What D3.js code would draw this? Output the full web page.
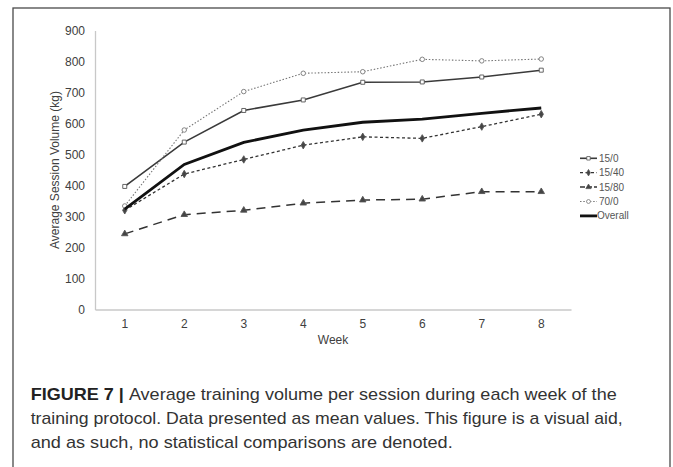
<!DOCTYPE html>
<html><head><meta charset="utf-8">
<script src="https://cdn.jsdelivr.net/npm/d3@7"></script>
<style>html,body{margin:0;padding:0;background:#fff;}svg{display:block;}</style>
</head><body>
<script>
const weeks = ["1","2","3","4","5","6","7","8"];
const yTicks = [0,100,200,300,400,500,600,700,800,900];
const s15_0  = [397,540,642,676,733,734,750,772];
const s15_40 = [320,437,484,530,557,552,590,630];
const s15_80 = [244,306,320,343,353,356,380,380];
const s70_0  = [334,579,703,762,767,807,802,808];
const overall= [324,468,539,579,604,614,633,650];
const seriesNames = ["15/0","15/40","15/80","70/0","Overall"];
const captionLines = [
  ["FIGURE 7 | ", "Average training volume per session during each week of the"],
  ["", "training protocol. Data presented as mean values. This figure is a visual aid,"],
  ["", "and as such, no statistical comparisons are denoted."]
];

const W=673,H=467;
const svg=d3.select("body").append("svg").attr("width",W).attr("height",H);
svg.append("rect").attr("x",13).attr("y",8).attr("width",657).attr("height",470)
  .attr("fill","none").attr("stroke","#4a4a4a").attr("stroke-width",1.3);

const x=d3.scaleBand().domain(weeks).range([95,571]);
const y=d3.scaleLinear().domain([0,900]).range([309.5,30.5]);
const font="Liberation Sans, Arial, sans-serif";

// axes
const xa=svg.append("g").attr("transform","translate(0,309.5)")
  .call(d3.axisBottom(x).tickSize(0).tickPadding(10));
xa.select(".domain").attr("stroke","#c8c8c8").attr("stroke-width",1.3);
xa.selectAll("text").attr("font-family",font).attr("font-size",12).attr("fill","#404040");
const ya=svg.append("g").attr("transform","translate(95,0)")
  .call(d3.axisLeft(y).tickValues(yTicks).tickSize(0).tickPadding(10));
ya.select(".domain").attr("stroke","#c8c8c8").attr("stroke-width",1.3);
ya.selectAll("text").attr("font-family",font).attr("font-size",12).attr("fill","#404040");

svg.append("text").attr("x",333).attr("y",344).attr("text-anchor","middle")
  .attr("font-family",font).attr("font-size",12).attr("fill","#404040").text("Week");
svg.append("text").attr("transform","translate(59,170) rotate(-90)").attr("text-anchor","middle")
  .attr("font-family",font).attr("font-size",12).attr("fill","#404040").text("Average Session Volume (kg)");

const series=[
  {name:"15/0",vals:s15_0,stroke:"#3a3a3a",w:1.6,dash:null,marker:"square"},
  {name:"15/40",vals:s15_40,stroke:"#333",w:1.3,dash:"3,2.5",marker:"diamond"},
  {name:"15/80",vals:s15_80,stroke:"#333",w:1.5,dash:"9,6",marker:"triangle"},
  {name:"70/0",vals:s70_0,stroke:"#777",w:1.1,dash:"1.5,1.8",marker:"circle"},
  {name:"Overall",vals:overall,stroke:"#111",w:2.8,dash:null,marker:null}
];
const symMap={square:d3.symbolSquare,diamond:d3.symbolDiamond,triangle:d3.symbolTriangle,circle:d3.symbolCircle};
const line=d3.line().x((d,i)=>x(weeks[i])+x.bandwidth()/2).y(d=>y(d));
series.forEach(s=>{
  const p=svg.append("path").datum(s.vals).attr("d",line).attr("fill","none")
    .attr("stroke",s.stroke).attr("stroke-width",s.w);
  if(s.dash)p.attr("stroke-dasharray",s.dash);
  if(s.marker){
    svg.selectAll(null).data(s.vals).enter().append("path")
      .attr("d",d3.symbol().type(symMap[s.marker]).size(s.marker==="triangle"?18:16))
      .attr("transform",(d,i)=>`translate(${x(weeks[i])+x.bandwidth()/2},${y(d)})`)
      .attr("fill",(s.marker==="square"||s.marker==="circle")?"#fff":"#444")
      .attr("stroke",s.marker==="circle"?"#777":"#555").attr("stroke-width",0.9);
  }
});

// legend
const lg=svg.append("g");
series.forEach((s,i)=>{
  const yy=158.3+i*14.4;
  const l=lg.append("line").attr("x1",580).attr("x2",597).attr("y1",yy).attr("y2",yy)
    .attr("stroke",s.stroke).attr("stroke-width",s.w);
  if(s.dash)l.attr("stroke-dasharray",s.name==="15/80"?"5,2":s.dash);
  if(s.marker){
    lg.append("path").attr("d",d3.symbol().type(symMap[s.marker]).size(12))
      .attr("transform",`translate(588.5,${yy})`)
      .attr("fill",(s.marker==="square"||s.marker==="circle")?"#fff":"#444")
      .attr("stroke",s.marker==="circle"?"#777":"#555").attr("stroke-width",0.8);
  }
  lg.append("text").attr("x",s.name==="Overall"?597:599).attr("y",yy+3.5)
    .attr("font-family",font).attr("font-size",10).attr("fill","#555").text(seriesNames[i]);
});

// caption
const capEnds=[616.7,622.7,452.7];
captionLines.forEach((ln,i)=>{
  const t=svg.append("text").attr("x",30.7).attr("y",400+i*24)
    .attr("font-family",font).attr("font-size",17).attr("fill","#333");
  if(ln[0])t.append("tspan").attr("font-weight","bold").attr("fill","#222").text(ln[0]);
  t.append("tspan").text(ln[1]);
  t.attr("textLength",capEnds[i]-30.7).attr("lengthAdjust","spacingAndGlyphs");
});
</script>
</body></html>
